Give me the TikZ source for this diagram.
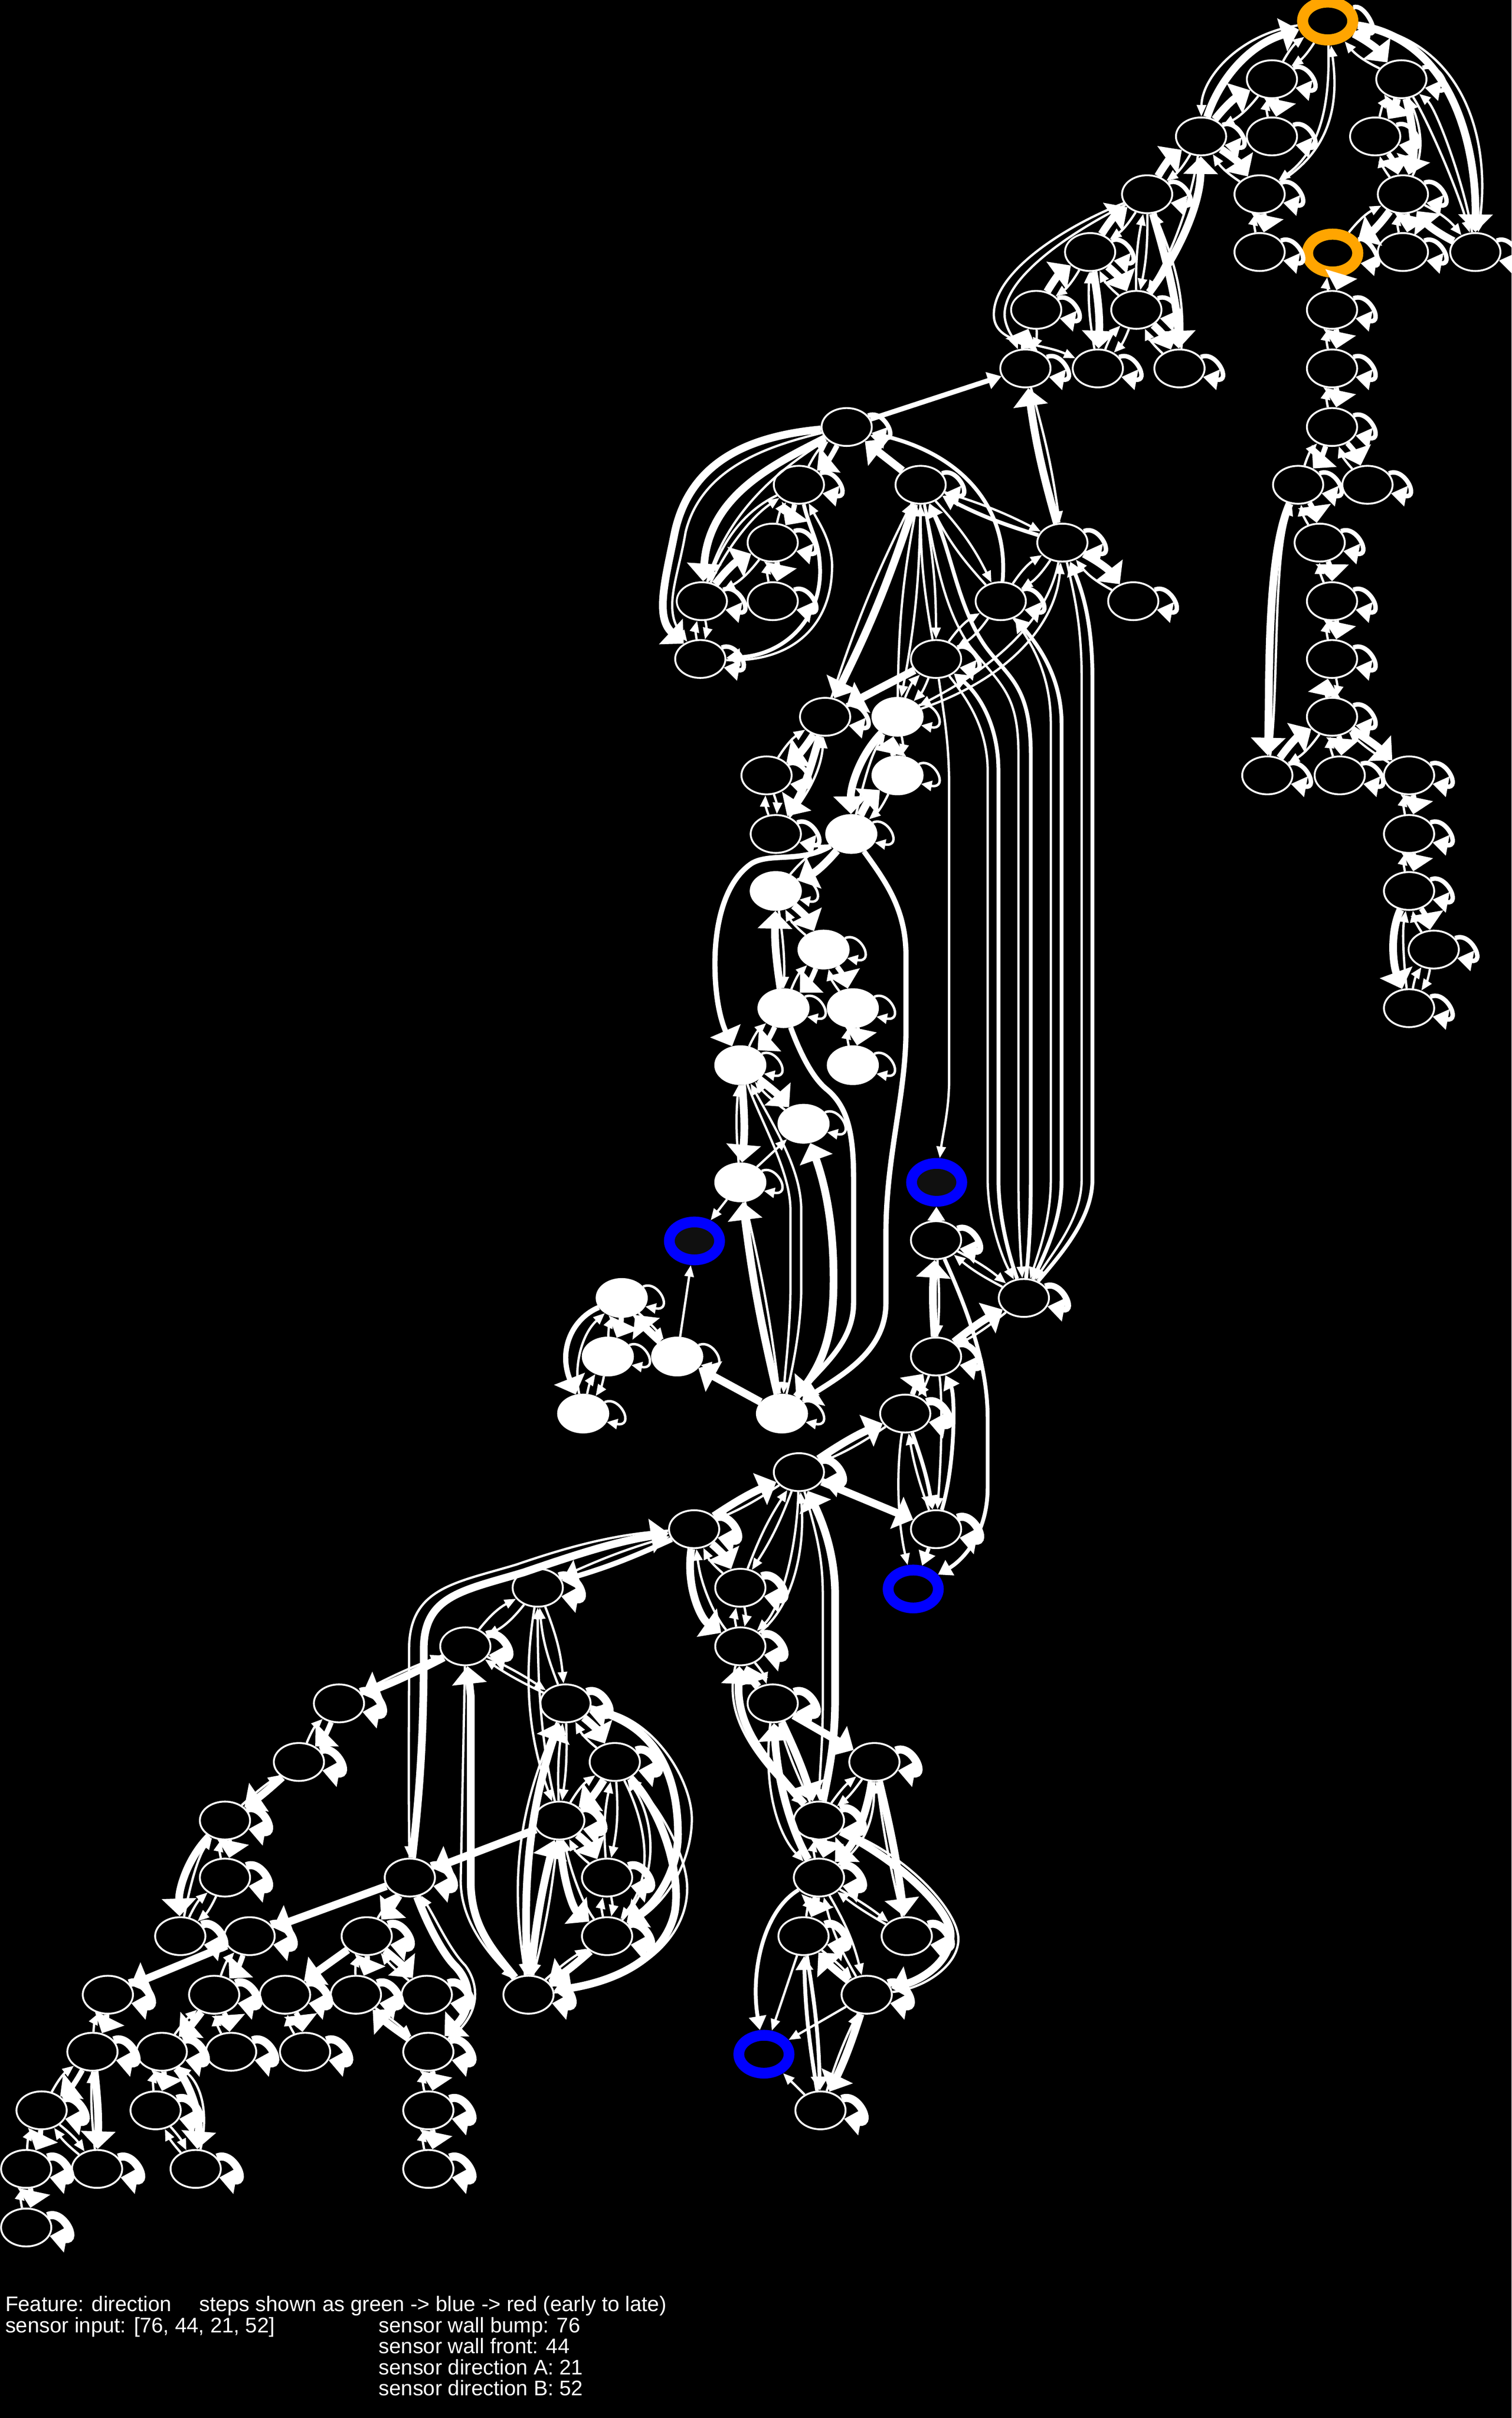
\documentclass[tikz,border=0pt]{standalone}
\usepackage{fontspec}
\setmainfont{Liberation Sans}
\usetikzlibrary{arrows.meta,shapes.geometric}
\newcommand\prr[5][12]{\draw[#4] (#2) to[bend left=#1] (#3); \draw[#5] (#3) to[bend left=#1] (#2);}
\newcommand\lpp[2]{\draw[#1] (#2.28) .. controls ([shift={(24,-12)}]#2.center) and ([shift={(34,9)}]#2.center) .. (#2.-20);}
\tikzset{
 nd/.style={ellipse,draw=white,fill=black,line width=.024cm,minimum width=.652cm,minimum height=.492cm,inner sep=0pt},
 ndw/.style={nd,fill=white},
 ndo/.style={nd,draw={rgb,255:red,255;green,165;blue,0},line width=.144cm},
 ndb/.style={nd,draw={rgb,255:red,0;green,0;blue,255},line width=.14cm},
 eTh/.style={color=white,line width=.1cm,-{Triangle[length=.23cm,width=.44cm]}},
 eMt/.style={color=white,line width=.068cm,-{Triangle[length=.22cm,width=.42cm]}},
 eMd/.style={color=white,line width=.05cm,-{Triangle[length=.18cm,width=.22cm]}},
 eTn/.style={color=white,line width=.03cm,-{Triangle[length=.15cm,width=.12cm]}},
 lpa/.style={color=white,line width=.058cm,-{Triangle[length=.2cm,width=.26cm]}},
 lpb/.style={color=white,line width=.032cm,-{Triangle[length=.14cm,width=.13cm]}},
 lpm/.style={color=white,line width=.08cm,-{Triangle[length=.22cm,width=.3cm]}},
 lpc/.style={color=white,line width=.105cm,-{Triangle[length=.22cm,width=.34cm]}},
 lbl/.style={color=white,anchor=base west,inner sep=0pt,font=\fontsize{7.8pt}{9pt}\selectfont}
}
\begin{document}
\begin{tikzpicture}[x=.02cm,y=-.02cm]
\useasboundingbox (0,0) rectangle (981,1568.6);
\fill[black] (0,0) rectangle (981,1568.6);
% plain nodes
\foreach \n/\x/\y in {a1/825.5/51.4,a2/909.5/51.4,b1/779.5/88.5,b2/825.5/88.5,b3/892.5/88.5,c1/744.5/126,c2/817.5/126,c3/910.5/126,
d1/707.5/163.5,d2/817.5/163.5,d3/910.5/163.5,d4/957.5/163.5,e1/672.5/201,e2/737.5/201,e3/864.5/201,f1/665.5/239,f2/712.5/239,f3/765.5/239,f4/864.5/239,
g1/549.5/277,g2/864.5/277,h1/518.5/314.5,h2/597.5/314.5,h3/842.5/314.5,h4/887.5/314.5,i1/501.5/352,i2/689.5/352,i3/856.5/352,
j1/455.5/390,j2/501.5/390,j3/649.5/390,j4/735.5/390,j5/864.5/390,k1/454.5/427.5,k2/607.5/427.5,k3/864.5/427.5,l1/535.5/465,l3/864.5/465,
m1/497.5/503,m3/822.5/503,m4/869.5/503,m5/914.5/503,n1/503.5/541,n3/914.5/541,o2/914.5/578,p2/930.5/616,q3/914.5/654,
u/607.5/804.5,v2/664.5/842,w3/607.5/880,x3/587.5/917,y/518.5/955,z1/450.5/992,z2/607.5/992,A1/349/1030,A2/480.5/1030,C1/302/1068,C2/480.5/1068,
D1/220/1105,D2/367/1105,D3/501.5/1105,E1/194/1143,E2/399/1143,E3/567.5/1143,F1/146/1181,F2/363/1181,F3/531.5/1181,
G1/146/1218,G2/266/1218,G3/394/1218,G4/531.5/1218,H1/117/1256,H2/162/1256,H3/238/1256,H4/394/1256,H5/521.5/1256,H6/588.5/1256,
I1/70/1294,I2/139/1294,I3/185/1294,I4/231/1294,I5/277/1294,I6/343/1294,I7/562.5/1294,J1/60/1331,J2/105/1331,J3/150/1331,J4/198/1331,J5/278/1331,
K1/27/1369,K2/101/1369,K3/278/1369,K4/532.5/1369,L1/17/1407,L2/63/1407,L3/127/1407,L4/278/1407,M/17/1445}
  {\node[nd] (\n) at (\x,\y) {};}
% white nodes
\foreach \n/\x/\y in {lW/582.5/465,mW/582.5/503,nW/552.5/541,oW/503.5/578,pW/534.5/616,qA/508.5/654,qB/553.5/654,rA/480.5/691,rB/553.5/691,sW/521.5/729,tW/480.5/767,
vW/403.5/842,wA/394.5/880,wB/439.5/880,xA/378.5/917,xB/507.5/917}
  {\node[ndw] (\n) at (\x,\y) {};}
% start and end marks
\node[ndo] (O1) at (861.7,13.6) {};
\node[ndo] (O2) at (864.9,164.2) {};
\node[ndb,fill={rgb,255:red,16;green,16;blue,16}] (B1) at (607.9,767) {};
\node[ndb,fill={rgb,255:red,16;green,16;blue,16}] (B2) at (450.7,805) {};
\node[ndb] (B3) at (592.7,1030.8) {};
\node[ndb] (B4) at (495.8,1332.6) {};
% self loops
\foreach \n in {O1,a1,a2,b1,b2,b3,c1,c2,c3,d1,d2,O2,d3,d4,e1,e2,e3,f1,f2,f3,f4,g1,g2,h1,h2,h3,h4,i1,i2,i3,j1,j2,j3,j4,j5,k1,k2,k3,l1,l3,m1,m3,m4,m5,n1,n3,o2,p2,q3}
  {\lpp{lpa}{\n}}
\foreach \n in {lW,mW,nW,oW,pW,qA,qB,rA,rB,sW,tW,vW,wA,wB,xA,xB}
  {\lpp{lpb}{\n}}
\foreach \n in {u,v2,w3}
  {\lpp{lpm}{\n}}
\foreach \n in {x3,y,z1,z2,A1,A2,C1,C2,D1,D2,D3,E1,E2,E3,F1,F2,F3,G1,G2,G3,G4,H1,H2,H3,H4,H5,H6,I1,I2,I3,I4,I5,I6,I7,J1,J2,J3,J4,J5,K1,K2,K3,K4,L1,L2,L3,L4,M}
  {\lpp{lpc}{\n}}
% top block
\draw[eTh] (b1) .. controls (790,55) and (808,30) .. (O1);
\draw[eTn] (O1) .. controls (805,22) and (780,50) .. (b1);
\prr{O1}{a1}{eTn}{eTn}
\prr{O1}{a2}{eTh}{eTn}
\draw[eTh] (O1) .. controls (940,25) and (958,90) .. (d4);
\draw[eTn] (O1) .. controls (950,25) and (968,90) .. (d4);
\draw[eTn] (a2) .. controls (925,75) and (945,120) .. (d4);
\draw[eTn] (d4) .. controls (950,118) and (932,70) .. (a2);
\draw[eTn] (O1) .. controls (863,60) and (860,95) .. (c2);
\draw[eTn] (c2) .. controls (868,95) and (868,60) .. (O1);
\prr{b1}{a1}{eTh}{eTn}
\prr{a1}{b2}{eMt}{eTn}
\prr{c1}{b1}{eTh}{eTn}
\prr{b1}{c2}{eTh}{eTn}
\draw[eTh] (e2) .. controls (768,160) and (779,130) .. (b1);
\draw[eTn] (b1) .. controls (772,135) and (760,165) .. (e2);
\draw[eTh] (c1) .. controls (756,165) and (764,195) .. (f3);
\draw[eTn] (f3) .. controls (770,190) and (760,165) .. (c1);
\prr[6]{c1}{e2}{eTn}{eTn}
\prr{d1}{c1}{eTh}{eTn}
\draw[eTn] (c1) .. controls (695,145) and (645,175) .. (645,204) .. controls (645,224) and (675,222) .. (f2);
\draw[eTn] (c1) .. controls (700,148) and (652,178) .. (652,204) .. controls (652,212) and (658,220) .. (f1);
\prr{f1}{e1}{eTh}{eTn}
\prr{e1}{d1}{eTh}{eTn}
\prr[6]{d1}{f2}{eTh}{eTn}
\prr{d1}{e2}{eTh}{eTn}
\prr{e2}{f3}{eTh}{eTn}
\prr{e2}{f2}{eTn}{eTn}
\prr{c2}{d2}{eMt}{eTn}
\prr{a2}{b3}{eTh}{eTn}
\draw[eTh] (a2) .. controls (918,85) and (918,100) .. (c3);
\draw[eTn] (c3) .. controls (924,100) and (923,85) .. (a2);
\prr{b3}{c3}{eMt}{eTn}
\prr{c3}{O2}{eTh}{eTn}
\prr{c3}{d3}{eMt}{eTn}
\prr{d4}{c3}{eTh}{eTn}
\prr{O2}{e3}{eMt}{eTn}
\prr{e3}{f4}{eMt}{eTn}
\prr{f4}{g2}{eMt}{eTn}
% right column
\prr{g2}{h3}{eMt}{eTn}
\prr{g2}{h4}{eMt}{eTn}
\draw[eTh] (h3) .. controls (822,360) and (824,440) .. (m3);
\draw[eTn] (m3) .. controls (830,450) and (826,365) .. (h3);
\prr{h3}{i3}{eMt}{eTn}
\prr{i3}{j5}{eMt}{eTn}
\prr{j5}{k3}{eMt}{eTn}
\prr{l3}{k3}{eMt}{eTn}
\prr{m3}{l3}{eTh}{eTn}
\prr{l3}{m4}{eMt}{eTn}
\prr[5]{l3}{m5}{eTh}{eTn}
\prr{m5}{n3}{eMt}{eTn}
\prr{n3}{o2}{eMt}{eTn}
\draw[eTh] (o2) .. controls (902,605) and (904,625) .. (q3);
\draw[eTn] (q3) .. controls (911,625) and (910,605) .. (o2);
\prr{o2}{p2}{eMt}{eTn}
\prr{p2}{q3}{eTn}{eTn}
% middle block
\draw[eMd,line width=.065cm] (g1) -- (f1);
\prr[4]{i2}{f1}{eTh}{eTn}
\draw[eTh] (h2) -- (g1);
\draw[eMd] (j3) .. controls (655,330) and (625,295) .. (g1);
\draw[eTh] (g1) .. controls (485,283) and (448,300) .. (438,345) .. controls (432,375) and (425,400) .. (k1);
\draw[eTn] (g1) .. controls (495,290) and (455,305) .. (445,345) .. controls (440,375) and (430,395) .. (k1);
\draw[eTh] (g1) .. controls (505,300) and (460,320) .. (j1);
\draw[eTn] (j1) .. controls (468,345) and (490,315) .. (g1);
\prr{g1}{h1}{eMt}{eTn}
\prr{h1}{i1}{eMt}{eTn}
\draw[eTn] (h1) .. controls (480,333) and (468,355) .. (j1);
\draw[eTn] (j1) .. controls (472,355) and (488,335) .. (h1);
\prr{j1}{i1}{eTh}{eTn}
\prr{i1}{j2}{eMt}{eTn}
\draw[eMd] (h1) .. controls (526,345) and (531,350) .. (532,365) .. controls (535,400) and (510,425) .. (k1);
\draw[eTn] (k1) .. controls (515,430) and (541,405) .. (540,365) .. controls (539,350) and (532,340) .. (h1);
\prr{j1}{k1}{eTn}{eTn}
\prr[4]{h2}{l1}{eTh}{eTn}
\prr[5]{h2}{lW}{eTn}{eTn}
\prr[5]{h2}{k2}{eTn}{eTn}
\prr[8]{h2}{j3}{eTn}{eTn}
\prr[5]{i2}{h2}{eMd}{eTn}
\prr{i2}{j3}{eTn}{eTn}
\prr{i2}{j4}{eTh}{eTn}
\prr{k2}{j3}{eTn}{eTn}
\draw[eTn] (h2) .. controls (607,360) and (612,395) .. (630,420) .. controls (650,445) and (661,450) .. (661,490) -- (661,765) .. controls (661,790) and (662,810) .. (v2);
\draw[eMd] (v2) .. controls (668,810) and (669,790) .. (669,765) -- (669,490) .. controls (669,445) and (655,440) .. (640,420) .. controls (622,395) and (618,360) .. (h2);
\draw[eTn] (k2) .. controls (625,450) and (641,470) .. (641,500) -- (641,765) .. controls (641,790) and (650,815) .. (v2);
\draw[eMd] (v2) .. controls (655,815) and (648,790) .. (648,765) -- (648,500) .. controls (648,470) and (635,450) .. (k2);
\draw[eTn] (j3) .. controls (672,420) and (682,440) .. (682,470) -- (682,765) .. controls (682,790) and (675,810) .. (v2);
\draw[eMd] (v2) .. controls (680,810) and (689,790) .. (689,765) -- (689,470) .. controls (689,440) and (675,420) .. (j3);
\draw[eTn] (i2) .. controls (697,385) and (702,405) .. (702,440) -- (702,765) .. controls (702,790) and (685,810) .. (v2);
\draw[eMd] (v2) .. controls (690,812) and (709,790) .. (709,765) -- (709,440) .. controls (709,405) and (703,385) .. (i2);
\draw[eTn] (i2) .. controls (680,400) and (650,430) .. (lW);
\draw[eTn] (lW) .. controls (655,440) and (685,405) .. (i2);
\draw[eTn] (k2) .. controls (612,460) and (616,480) .. (616,510) -- (616,700) .. controls (616,720) and (612,735) .. (B1);
\draw[eTh] (k2) -- (l1);
\prr{k2}{lW}{eTn}{eTn}
\prr{mW}{lW}{eMt}{eTn}
\prr{nW}{mW}{eTh}{eTn}
\prr{l1}{m1}{eTh}{eTn}
\draw[eTh] (l1) .. controls (527,495) and (522,512) .. (n1);
\draw[eTn] (n1) .. controls (527,512) and (533,497) .. (l1);
\prr{m1}{n1}{eTn}{eTn}
\draw[eTh] (lW) .. controls (558,490) and (552,510) .. (nW);
\draw[eTn] (nW) .. controls (560,510) and (565,490) .. (lW);
% white block
\prr{nW}{oW}{eTh}{eTn}
\draw[eMt] (nW) .. controls (520,560) and (500,553) .. (488,560) .. controls (470,572) and (464,600) .. (464,625) .. controls (464,645) and (467,660) .. (rA);
\draw[eMt] (nW) .. controls (575,572) and (588,590) .. (588,620) -- (588,668) .. controls (588,710) and (575,750) .. (575,800) -- (575,845) .. controls (575,875) and (550,890) .. (xB);
\prr{oW}{pW}{eTh}{eTn}
\prr[5]{qA}{oW}{eTh}{eTn}
\prr{pW}{qA}{eMt}{eTn}
\prr{pW}{qB}{eMt}{eTn}
\prr{qB}{rB}{eMt}{eTn}
\prr{qA}{rA}{eMt}{eTn}
\draw[eMt] (qA) .. controls (520,685) and (528,700) .. (537,707) .. controls (550,718) and (554,735) .. (554,765) -- (554,845) .. controls (554,870) and (535,885) .. (xB);
\prr[6]{rA}{sW}{eTh}{eTn}
\prr[5]{rA}{tW}{eTh}{eTn}
\draw[eTn] (rA) .. controls (495,730) and (513,760) .. (513,785) -- (513,835) .. controls (513,860) and (510,885) .. (xB);
\draw[eTn] (xB) .. controls (515,885) and (520,860) .. (520,835) -- (520,785) .. controls (520,760) and (505,735) .. (rA);
\draw[eTh] (xB) .. controls (535,885) and (541,865) .. (541,830) .. controls (541,795) and (536,770) .. (sW);
\draw[eTn] (tW) -- (sW);
\prr[3]{xB}{tW}{eTh}{eTn}
\draw[eTn] (tW) -- (B2);
\draw[eTn] (wB) -- (B2);
\draw[eTh] (xB) -- (wB);
\prr[5]{wB}{vW}{eTh}{eTn}
\prr{vW}{wA}{eMt}{eTn}
\prr{wA}{xA}{eTn}{eTn}
\draw[eMt] (vW) .. controls (372,855) and (362,875) .. (xA);
\draw[eTn] (xA) .. controls (372,885) and (378,865) .. (vW);
% centre
\draw[eMd] (u) -- (B1);
\prr[4]{w3}{u}{eTh}{eTn}
\prr[6]{v2}{u}{eTn}{eTn}
\prr[5]{w3}{v2}{eTh}{eTn}
\prr[8]{x3}{w3}{eMt}{eTn}
\prr[5]{y}{x3}{eTh}{eTn}
\draw[eTh] (y) -- (z2);
\prr[5]{x3}{z2}{eMd}{eTn}
\draw[eMd] (z2) -- (B3);
\draw[eMd] (u) .. controls (628,850) and (641,885) .. (641,920) -- (641,965) .. controls (641,995) and (625,1012) .. (B3);
\draw[eTn] (w3) .. controls (611,900) and (612,930) .. (z2);
\draw[eMd] (z2) .. controls (620,950) and (620,905) .. (w3);
\draw[eTn] (x3) .. controls (582,950) and (582,985) .. (B3);
\prr[5]{z1}{y}{eTh}{eTn}
\prr[4]{z1}{A1}{eMt}{eTn}
\prr{z1}{A2}{eTh}{eTn}
\draw[eTh] (z1) .. controls (445,1030) and (455,1050) .. (C2);
\draw[eTn] (C2) .. controls (465,1050) and (455,1030) .. (z1);
\draw[eTn] (y) .. controls (517,1010) and (505,1045) .. (C2);
\draw[eTn] (C2) .. controls (512,1045) and (523,1010) .. (y);
\prr[6]{y}{A2}{eTn}{eTn}
\prr{A2}{C2}{eTn}{eTn}
\prr{D3}{C2}{eTh}{eTn}
\draw[eTh] (F3) .. controls (540,1140) and (542,1125) .. (542,1100) -- (542,1035) .. controls (542,1010) and (535,990) .. (y);
\draw[eTn] (y) .. controls (530,995) and (534,1010) .. (534,1035) -- (534,1105) .. controls (534,1130) and (532,1150) .. (F3);
\draw[eTh] (F3) .. controls (495,1140) and (478,1120) .. (C2);
\draw[eTn] (C2) .. controls (470,1110) and (485,1135) .. (F3);
\prr[4]{D3}{F3}{eTh}{eTn}
\draw[eTh] (G4) .. controls (515,1190) and (505,1160) .. (D3);
\draw[eTn] (D3) .. controls (495,1160) and (505,1190) .. (G4);
\draw[eTh] (D3) -- (E3);
\prr[8]{E3}{F3}{eTn}{eTn}
\prr{F3}{G4}{eTh}{eTn}
\draw[eTh] (E3) .. controls (563,1175) and (555,1195) .. (G4);
\draw[eTn] (G4) .. controls (558,1200) and (567,1185) .. (E3);
\prr[3]{E3}{H6}{eTh}{eTn}
\draw[eTh] (F3) .. controls (585,1208) and (618,1240) .. (617,1256) .. controls (616,1275) and (595,1285) .. (I7);
\draw[eTn] (I7) .. controls (600,1290) and (622,1275) .. (622,1258) .. controls (622,1240) and (590,1205) .. (F3);
\prr[7]{G4}{H5}{eTh}{eTn}
\prr[4]{G4}{H6}{eTn}{eTn}
\prr[8]{G4}{I7}{eTn}{eTn}
\draw[eMd] (G4) .. controls (495,1240) and (487,1280) .. (B4);
\draw[eTn] (H5) -- (B4);
\draw[eTn] (I7) -- (B4);
\draw[eTn] (K4) -- (B4);
\prr[5]{I7}{H5}{eTh}{eTn}
\prr[4]{I7}{K4}{eTh}{eTn}
\prr[4]{H5}{K4}{eMd}{eMd}
% lower left block
\draw[eTh] (G2) .. controls (274,1150) and (275,1110) .. (275,1070) .. controls (275,1035) and (300,1032) .. (340,1020) .. controls (375,1008) and (400,1000) .. (z1);
\draw[eTn] (z1) .. controls (400,995) and (370,1003) .. (335,1015) .. controls (295,1027) and (265.5,1030) .. (265.5,1070) .. controls (265.5,1110) and (265,1160) .. (G2);
\prr{A1}{C1}{eTn}{eTn}
\prr[3]{C1}{D1}{eTh}{eTn}
\prr[4]{C1}{D2}{eTn}{eTn}
\prr[8]{A1}{D2}{eTn}{eTn}
\draw[eTn] (A1) .. controls (340,1085) and (342,1125) .. (F2);
\draw[eTn] (F2) .. controls (350,1125) and (349,1085) .. (A1);
\prr[5]{D2}{F2}{eTn}{eTn}
\draw[eTh] (I6) .. controls (320,1265) and (305.5,1250) .. (305.5,1220) -- (305.5,1100) -- (C1);
\draw[eTn] (C1) -- (299,1220) .. controls (299,1245) and (315,1265) .. (I6);
\draw[eTh] (I6) .. controls (341,1250) and (338,1190) .. (D2);
\draw[eTn] (D2) .. controls (340,1165) and (330,1210) .. (I6);
\prr{D2}{E2}{eTh}{eTn}
\prr{E2}{F2}{eTh}{eTn}
\prr[8]{E2}{G3}{eTn}{eTn}
\prr{F2}{G3}{eTh}{eTn}
\draw[eTh] (F2) -- (G2);
\prr{G3}{H4}{eTn}{eTn}
\draw[eTh] (F2) .. controls (365,1220) and (372,1238) .. (H4);
\draw[eTn] (H4) .. controls (378,1235) and (371,1215) .. (F2);
\prr[4]{I6}{F2}{eTh}{eTn}
\prr[5]{H4}{I6}{eTh}{eTn}
\draw[eTh] (D2) .. controls (425,1118) and (440,1150) .. (440,1190) .. controls (440,1215) and (425,1235) .. (H4);
\draw[eTn] (H4) .. controls (435,1235) and (449,1205) .. (449,1180) .. controls (449,1155) and (425,1115) .. (D2);
\draw[eTh] (E2) .. controls (430,1175) and (442,1215) .. (438,1240) .. controls (432,1270) and (400,1285) .. (I6);
\draw[eTn] (I6) .. controls (410,1288) and (446,1260) .. (446,1225) .. controls (446,1205) and (430,1175) .. (E2);
\draw[eTn] (E2) .. controls (418,1180) and (426,1215) .. (H4);
\draw[eTn] (H4) .. controls (432,1215) and (422,1175) .. (E2);
\draw[eTh] (G2) -- (H2);
\prr[5]{G2}{H3}{eTh}{eTn}
\draw[eTh] (H3) -- (I3);
\prr{H3}{I4}{eMt}{eTn}
\prr[6]{H3}{I5}{eTh}{eTn}
\prr[4]{J5}{I4}{eTh}{eTn}
\prr{I3}{J4}{eMt}{eTn}
\prr{J5}{K3}{eMt}{eTn}
\prr{K3}{L4}{eMt}{eTn}
\draw[eTh] (G2) .. controls (278,1250) and (288,1268) .. (295,1275) .. controls (308,1288) and (305,1305) .. (J5);
\draw[eTn] (J5) .. controls (310,1310) and (313,1290) .. (302,1275) .. controls (292,1265) and (283,1245) .. (G2);
\prr{D1}{E1}{eMt}{eTn}
\prr[4]{E1}{F1}{eTh}{eTn}
\prr{F1}{G1}{eMt}{eTn}
\prr{G1}{H1}{eTn}{eTn}
\draw[eTh] (F1) .. controls (122,1205) and (116,1225) .. (H1);
\draw[eTn] (H1) .. controls (123,1225) and (128,1205) .. (F1);
\draw[eTh] (H2) -- (I1);
\prr{H2}{I2}{eMt}{eTn}
\prr[6]{I2}{J2}{eTh}{eTn}
\prr{I2}{J3}{eMt}{eTn}
\prr{I1}{J1}{eMt}{eTn}
\prr{J1}{K1}{eMt}{eTn}
\prr[4]{J1}{L2}{eTh}{eTn}
\prr{K1}{L1}{eMt}{eTn}
\prr[8]{K1}{L2}{eTn}{eTn}
\prr{L1}{M}{eMt}{eTn}
\prr{J2}{K2}{eMt}{eTn}
\prr[8]{K2}{L3}{eTn}{eTn}
\draw[eTh] (J2) .. controls (122,1350) and (130,1370) .. (L3);
\draw[eTn] (L3) .. controls (136,1370) and (130,1352) .. (J2);
% caption
\node[lbl] (t1) at (3.1,1499.5) {Feature: direction};
\node[lbl] (t2) at (129,1499.5) {steps shown as green -> blue -> red (early to late)};
\node[lbl] (t3) at (3.1,1513.2) {sensor input: [76, 44, 21, 52]};
\node[lbl] (t4) at (245.5,1513.2) {sensor wall bump: 76};
\node[lbl] (t5) at (245.5,1526.8) {sensor wall front: 44};
\node[lbl] (t6) at (245.5,1540.5) {sensor direction A: 21};
\node[lbl] (t7) at (245.5,1554) {sensor direction B: 52};
\end{tikzpicture}
\end{document}
